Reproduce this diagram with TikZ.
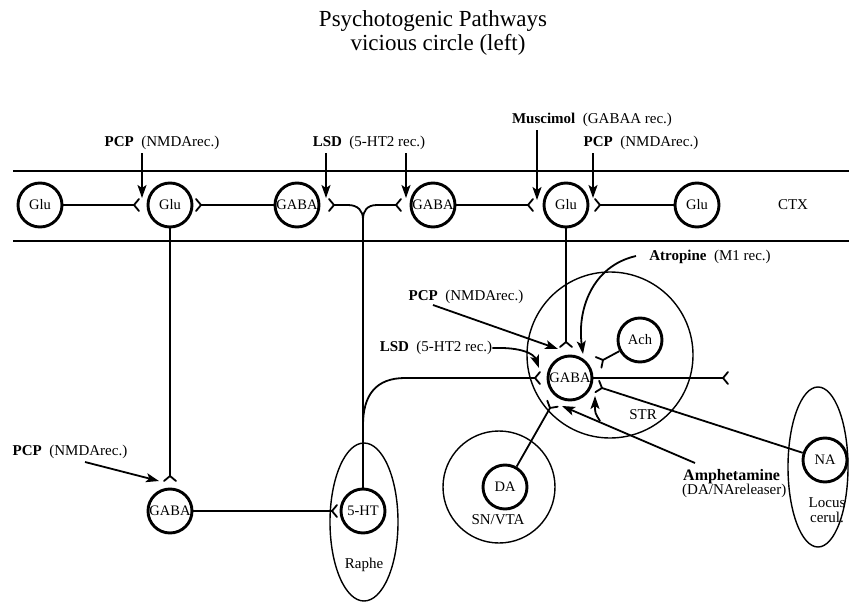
\documentclass[tikz,border=0pt]{standalone}
\usepackage{fontspec}
\setmainfont{Liberation Serif}
\usetikzlibrary{arrows.meta,calc,shapes.geometric}
\begin{document}
\begin{tikzpicture}[x=1pt,y=-1pt,
  neuron/.style={circle,draw,line width=2.9pt,minimum size=44pt,inner sep=0pt,font=\fontsize{14.5}{16}\selectfont},
  region/.style={draw,line width=1.4pt},
  conn/.style={line width=1.8pt},
  drug/.style={-{Stealth[length=13pt,width=9pt,inset=3pt]},line width=1.8pt},
  lab/.style={font=\fontsize{15}{17}\selectfont,inner sep=0pt},
  ttl/.style={font=\fontsize{23}{26}\selectfont,inner sep=0pt},
  syn/.pic={\draw[line width=1.8pt,line join=miter,line cap=round] (5,-6) -- (0,0) -- (5,6);}
]
\useasboundingbox (0,0) rectangle (849,602);

% title
\node[ttl] (title) at (433,21) {Psychotogenic Pathways};
\node[ttl] (subtitle) at (438,45) {vicious circle (left)};

% cortex band
\draw[line width=1.4pt] (13,171) -- (849,171);
\draw[line width=1.4pt] (13,241) -- (849,241);

% regions
\node[region,ellipse,minimum width=68pt,minimum height=158pt,inner sep=0pt] (raphe) at (364,522) {};
\node[region,circle,minimum size=166pt,inner sep=0pt] (str) at (610,355) {};
\node[region,circle,minimum size=112pt,inner sep=0pt] (snvta) at (499,487) {};
\node[region,ellipse,minimum width=60pt,minimum height=160pt,inner sep=0pt] (locus) at (818,467) {};

% neurons
\node[neuron] (glu1) at (40,205) {Glu};
\node[neuron] (glu2) at (170,205) {Glu};
\node[neuron] (gaba1) at (297,205) {GABA};
\node[neuron] (gaba2) at (433,205) {GABA};
\node[neuron] (glu3) at (566,205) {Glu};
\node[neuron] (glu4) at (697,205) {Glu};
\node[neuron] (gaba3) at (170,511) {GABA};
\node[neuron] (ht) at (363,511) {5-HT};
\node[neuron] (gaba4) at (570,378) {GABA};
\node[neuron] (ach) at (640,340) {Ach};
\node[neuron] (da) at (505,487) {DA};
\node[neuron] (na) at (825,460) {NA};

% region labels
\node[lab] (ctx) at (793,205) {CTX};
\node[lab] (raphelab) at (364,565) {Raphe};
\node[lab] (strlab) at (643,415) {STR};
\node[lab] (snlab) at (498,520) {SN/VTA};
\node[lab] (locuslab) at (827,503) {Locus};
\node[lab] (cerullab) at (827,517) {cerul.};

% synapse points
\coordinate (s1) at (134,205);
\coordinate (s2) at (201,205);
\coordinate (s3) at (334,205);
\coordinate (s4) at (396,205);
\coordinate (s6) at (528,205);
\coordinate (s7) at (600,205);
\coordinate (s8) at (170,476);
\coordinate (s9) at (332,511);
\coordinate (s5) at (535,378);
\coordinate (s10) at (566,342);
\coordinate (s11) at (603,360);
\coordinate (s12) at (550,408);
\coordinate (s13) at (602,388);
\coordinate (s14) at (723,378);
\coordinate (jn) at (363,219);
\coordinate (br) at (363,425);

% connections
\draw[conn] (glu1) -- (s1);   \pic[rotate=0] at (s1) {syn};
\draw[conn] (gaba1) -- (s2);  \pic[rotate=180] at (s2) {syn};
\draw[conn] (s3) -- ++(14,0) .. controls +(10,0) and +(0,-8) .. (jn)
            .. controls +(0,-8) and +(-10,0) .. ++(14,-14) -- (s4);
\pic[rotate=180] at (s3) {syn};
\pic[rotate=0] at (s4) {syn};
\draw[conn] (jn) -- (ht);
\draw[conn] (gaba2) -- (s6);  \pic[rotate=0] at (s6) {syn};
\draw[conn] (glu4) -- (s7);   \pic[rotate=180] at (s7) {syn};
\draw[conn] (glu2) -- (s8);   \pic[rotate=-90] at (s8) {syn};
\draw[conn] (gaba3) -- (s9);  \pic[rotate=0] at (s9) {syn};
\draw[conn] (br) .. controls (363,395) and (376,378) .. (405,378) -- (s5);
\pic[rotate=0] at (s5) {syn};
\draw[conn] (glu3) -- (s10);  \pic[rotate=-90] at (s10) {syn};
\draw[conn] (ach) -- (s11);   \pic[rotate=208] at (s11) {syn};
\draw[conn] (da) -- (s12);    \pic[rotate=60] at (s12) {syn};
\draw[conn] (na) -- (s13);    \pic[rotate=162] at (s13) {syn};
\draw[conn] (gaba4) -- (s14); \pic[rotate=0] at (s14) {syn};

% drug labels
\node[lab] (pcp1) at (162,143) {\textbf{PCP}\ \ (NMDArec.)};
\node[lab] (lsd1) at (369,143) {\textbf{LSD}\ \ (5-HT2 rec.)};
\node[lab] (mus) at (592,120) {\textbf{Muscimol}\ \ (GABAA rec.)};
\node[lab] (pcp2) at (641,143) {\textbf{PCP}\ \ (NMDArec.)};
\node[lab] (pcp3) at (70,452) {\textbf{PCP}\ \ (NMDArec.)};
\node[lab] (pcp4) at (466,297) {\textbf{PCP}\ \ (NMDArec.)};
\node[lab] (lsd2) at (436,348) {\textbf{LSD}\ \ (5-HT2 rec.)};
\node[lab] (atr) at (710,257) {\textbf{Atropine}\ \ (M1 rec.)};
\node[lab,anchor=west] (amph1) at (683,477) {\fontsize{16}{18}\selectfont\textbf{Amphetamine}};
\node[lab,anchor=west] (amph2) at (682,491) {(DA/NAreleaser)};

% drug arrow tips
\coordinate (t1) at (142,198);
\coordinate (t2) at (326,198);
\coordinate (t3) at (406,198);
\coordinate (t4) at (537,200);
\coordinate (t5) at (593,198);
\coordinate (t6) at (159,481);
\coordinate (t7) at (558,349);
\coordinate (t8) at (539,368);
\coordinate (t9) at (583,354);
\coordinate (t10) at (562,406);
\coordinate (t11) at (595,396);
\coordinate (a6) at (85,462);
\coordinate (a7) at (433,305);
\coordinate (a9) at (636,256);
\coordinate (a10) at (695,463);
\coordinate (a11) at (600,421);

\draw[drug] (pcp1.south -| t1) ++(0,3) -- (t1);
\draw[drug] (lsd1.south -| t2) ++(0,3) -- (t2);
\draw[drug] (lsd1.south -| t3) ++(0,3) -- (t3);
\draw[drug] (mus.south -| t4) ++(0,3) -- (t4);
\draw[drug] (pcp2.south -| t5) ++(0,3) -- (t5);
\draw[drug] (a6) -- (t6);
\draw[drug] (a7) -- (t7);
\draw[drug] (lsd2.east) .. controls (522,347) and (534,354) .. (t8);
\draw[drug] (a9) .. controls (592,266) and (577,310) .. (t9);
\draw[drug] (a10) -- (t10);
\draw[drug] (a11) .. controls (595,413) .. (t11);
\end{tikzpicture}
\end{document}
